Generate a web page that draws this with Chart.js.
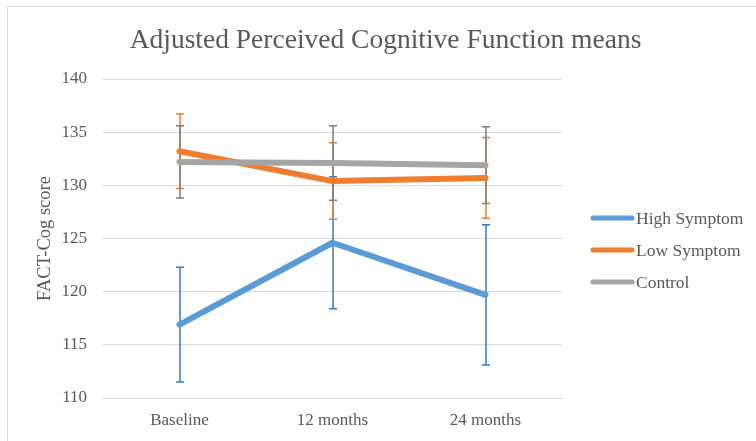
<!DOCTYPE html>
<html>
<head>
<meta charset="utf-8">
<script src="https://cdn.jsdelivr.net/npm/chart.js@4"></script>
<style>
  html, body { margin: 0; padding: 0; background: #ffffff; }
  #wrap { width: 756px; height: 441px; position: relative; }
</style>
</head>
<body>
<div id="wrap"><canvas id="chart" width="756" height="441"></canvas></div>
<script>
// Time points and group means (FACT-Cog score)
const categories = ['Baseline', '12 months', '24 months'];
const highSymptom = [116.9, 124.6, 119.7];
const lowSymptom = [133.2, 130.4, 130.7];
const control = [132.2, 132.1, 131.9];

// Error bar half-widths (±) for each group
const highSymptomErr = [5.4, 6.2, 6.6];
const lowSymptomErr = [3.5, 3.6, 3.8];
const controlErr = [3.4, 3.5, 3.6];

// Y axis range and tick spacing
const yMin = 110;
const yMax = 140;
const yStep = 5;

const seriesNames = ['High Symptom', 'Low Symptom', 'Control'];
const lineColors = ['#5B9BD5', '#ED7D31', '#A5A5A5'];
const errColors = ['#3A78BD', '#ED7D31', '#7F7F7F'];
const errValues = [highSymptomErr, lowSymptomErr, controlErr];

const SERIF = '"Liberation Serif", "DejaVu Serif", serif';
const TEXT = '#595959';

// Outer chart border
const framePlugin = {
  id: 'frame',
  beforeDraw(chart) {
    const ctx = chart.ctx;
    ctx.save();
    ctx.fillStyle = '#ffffff';
    ctx.fillRect(0, 0, chart.width, chart.height);
    ctx.strokeStyle = '#D9D9D9';
    ctx.lineWidth = 1;
    ctx.strokeRect(7.5, 6.5, 800, 500);
    ctx.restore();
  }
};

// Vertical error bars with caps, drawn under the lines
const errorBarPlugin = {
  id: 'errorBars',
  beforeDatasetsDraw(chart) {
    const ctx = chart.ctx;
    const x = chart.scales.x;
    const y = chart.scales.y;
    ctx.save();
    ctx.lineWidth = 1.5;
    const cap = 4;
    chart.data.datasets.forEach((ds, i) => {
      ctx.strokeStyle = errColors[i];
      ds.data.forEach((v, j) => {
        const px = Math.round(x.getPixelForValue(j));
        const top = y.getPixelForValue(v + errValues[i][j]);
        const bot = y.getPixelForValue(v - errValues[i][j]);
        ctx.beginPath();
        ctx.moveTo(px, top);
        ctx.lineTo(px, bot);
        ctx.moveTo(px - cap, top);
        ctx.lineTo(px + cap, top);
        ctx.moveTo(px - cap, bot);
        ctx.lineTo(px + cap, bot);
        ctx.stroke();
      });
    });
    ctx.restore();
  }
};

// Legend on the right: line swatch followed by series name
const sideLegendPlugin = {
  id: 'sideLegend',
  afterDraw(chart) {
    const ctx = chart.ctx;
    ctx.save();
    ctx.font = '17.5px ' + SERIF;
    ctx.textAlign = 'left';
    ctx.textBaseline = 'middle';
    chart.data.datasets.forEach((ds, i) => {
      const cy = 218 + i * 32;
      ctx.strokeStyle = ds.borderColor;
      ctx.lineWidth = 5;
      ctx.lineCap = 'round';
      ctx.beginPath();
      ctx.moveTo(593, cy);
      ctx.lineTo(632, cy);
      ctx.stroke();
      ctx.fillStyle = TEXT;
      ctx.fillText(ds.label, 636, cy + 1);
    });
    ctx.restore();
  }
};

const datasets = [highSymptom, lowSymptom, control].map((vals, i) => ({
  label: seriesNames[i],
  data: vals,
  borderColor: lineColors[i],
  backgroundColor: lineColors[i],
  borderWidth: 6,
  borderCapStyle: 'round',
  borderJoinStyle: 'round',
  pointRadius: 0,
  pointHoverRadius: 0,
  tension: 0,
  fill: false,
  order: 2 - i
}));

new Chart(document.getElementById('chart'), {
  type: 'line',
  data: { labels: categories, datasets },
  plugins: [framePlugin, errorBarPlugin, sideLegendPlugin],
  options: {
    responsive: false,
    animation: false,
    events: [],
    layout: { padding: { left: 15, right: 0, top: 0, bottom: 0 } },
    plugins: {
      legend: { display: false },
      tooltip: { enabled: false },
      title: {
        display: true,
        text: 'Adjusted Perceived Cognitive Function means',
        color: TEXT,
        font: { family: SERIF, size: 27.5, weight: 'normal', lineHeight: 1.2 },
        padding: { top: 24, bottom: 22 }
      }
    },
    scales: {
      x: {
        type: 'category',
        offset: true,
        grid: { display: false, drawTicks: false },
        border: { display: true, color: '#D9D9D9', width: 1 },
        ticks: {
          color: TEXT,
          font: { family: SERIF, size: 17 },
          padding: 12,
          maxRotation: 0
        },
        afterFit(s) { s.height = 43; }
      },
      y: {
        min: yMin,
        max: yMax,
        position: 'left',
        grid: { color: '#D9D9D9', lineWidth: 1, drawTicks: false },
        border: { display: false },
        ticks: {
          stepSize: yStep,
          color: TEXT,
          font: { family: SERIF, size: 17 },
          padding: 16
        },
        title: {
          display: true,
          text: 'FACT-Cog score',
          color: TEXT,
          font: { family: SERIF, size: 18.5, lineHeight: 1.2 },
          padding: { top: 19, bottom: 0 }
        },
        afterFit(s) { s.width = 88; }
      },
      spacer: {
        type: 'linear',
        position: 'right',
        display: true,
        grid: { display: false, drawTicks: false },
        border: { display: false },
        ticks: { display: false },
        afterFit(s) { s.width = 194; }
      }
    }
  }
});
</script>
</body>
</html>
